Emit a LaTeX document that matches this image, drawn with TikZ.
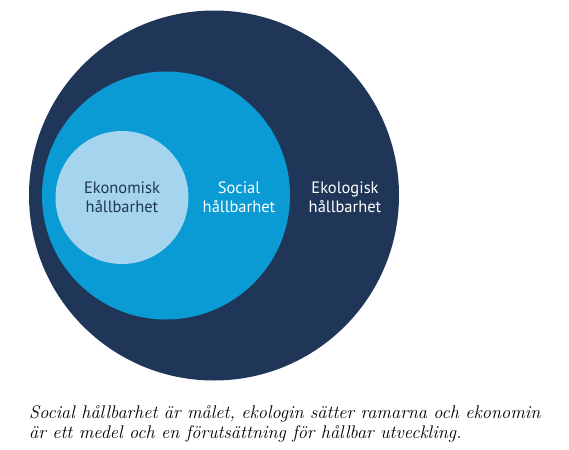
\documentclass[tikz,border=0pt]{standalone}
\usepackage{fontspec}
\newfontfamily\labelfont{PT Sans}
\definecolor{ekoblue}{HTML}{1F3658}
\definecolor{socblue}{HTML}{0A9AD4}
\definecolor{ekonblue}{HTML}{A5D5EE}
\begin{document}
\begin{tikzpicture}[x=1pt,y=-1pt,
	lbl/.style={font=\labelfont\fontsize{16.5}{19}\selectfont, align=center, inner sep=0pt},
	caption/.style={font=\itshape\fontsize{18.3}{20}\selectfont, align=left, anchor=base west, inner sep=0pt}]
	\useasboundingbox (0,0) rectangle (569,449);

	\fill[ekoblue] (214,195.5) circle (185);
	\fill[socblue] (166,195.5) circle (124);
	\fill[ekonblue] (122,197.5) circle (66.5);

	\node[lbl, text=ekoblue] (ekonomi) at (122,197) {Ekonomisk\\hållbarhet};
	\node[lbl, text=white] (social) at (239,197) {Social\\hållbarhet};
	\node[lbl, text=white] (ekologi) at (345,197) {Ekologisk\\hållbarhet};

	\node[caption] (text) at (29,438) {Social hållbarhet är målet, ekologin sätter ramarna och ekonomin\\är ett medel och en förutsättning för hållbar utveckling.};
\end{tikzpicture}
\end{document}
